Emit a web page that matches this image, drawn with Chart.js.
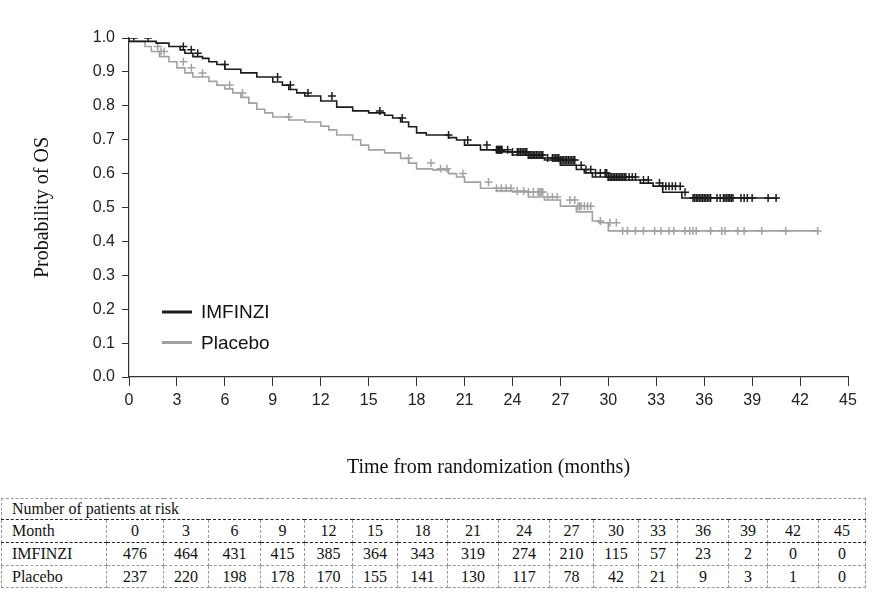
<!DOCTYPE html>
<html><head><meta charset="utf-8">
<script src="https://cdn.jsdelivr.net/npm/chart.js@4.4.0/dist/chart.umd.min.js"></script>
<style>
html,body{margin:0;padding:0;background:#fff;width:879px;height:603px;overflow:hidden;}
#wrap{position:absolute;left:0;top:0;width:879px;height:490px;}
#risk{position:absolute;left:1px;top:498px;border-collapse:collapse;table-layout:fixed;width:864px;font-family:"Liberation Serif","Times New Roman",serif;font-size:16px;color:#111;}
#risk td{border:1px dashed #9a9a9a;padding:0;text-align:center;line-height:18px;white-space:nowrap;overflow:hidden;}
#risk td.lab{text-align:left;padding-left:10px;}
#risk tr.t td{height:20px;text-align:left;padding-left:10px;border-bottom:1px dashed #222;}
#risk tr.m td{height:22px;border-bottom:1px dashed #222;}
#risk tr.a td{height:22px;}
#risk tr.b td{height:21px;}
</style></head>
<body>
<div id="wrap"><canvas id="c" width="879" height="490"></canvas></div>
<table id="risk"><colgroup id="cols"></colgroup><tbody id="tb"></tbody></table>
<script>
// ---- data ----
const imfTimes = [0,1.7,2.5,3.2,3.5,4.0,4.6,5.0,5.5,6.0,7.0,8.0,9.0,9.6,10.0,10.5,11.0,12.0,13.0,14.0,15.0,16.0,16.5,17.0,17.5,18.0,18.6,20.0,20.5,21.0,22.0,23.0,24.0,25.0,26.0,27.0,28.0,28.5,29.0,30.0,32.0,32.8,33.4,34.6,35.0,40.6];
const imfSurv  = [1.0,0.99,0.985,0.975,0.965,0.955,0.945,0.94,0.93,0.922,0.908,0.897,0.885,0.87,0.861,0.848,0.838,0.829,0.814,0.796,0.785,0.779,0.772,0.764,0.752,0.738,0.72,0.714,0.706,0.699,0.684,0.670,0.664,0.655,0.646,0.640,0.625,0.612,0.602,0.590,0.581,0.572,0.563,0.545,0.528,0.528];
const plaTimes = [0,1.0,1.4,1.9,2.5,3.0,3.5,4.0,5.0,5.5,6.0,6.5,7.0,7.5,8.0,8.5,9.0,10.0,11.0,12.0,12.5,13.0,14.0,14.5,15.0,16.0,17.0,17.5,18.0,19.0,20.0,20.5,21.0,22.0,23.0,24.0,25.0,26.0,27.0,28.0,29.0,29.4,30.0,30.9,43.1];
const plaSurv  = [1.0,0.99,0.975,0.96,0.945,0.93,0.912,0.897,0.885,0.872,0.861,0.85,0.838,0.825,0.808,0.79,0.779,0.767,0.758,0.752,0.74,0.729,0.714,0.70,0.684,0.670,0.661,0.645,0.631,0.614,0.611,0.60,0.590,0.575,0.557,0.549,0.546,0.531,0.522,0.504,0.487,0.46,0.455,0.431,0.431];
const imfCensor = [0.3,1.2,3.4,3.9,4.3,6.0,9.3,10.1,11.2,12.7,15.7,17.1,20.0,21.2,22.4,
  23.0,23.05,23.1,23.15,23.2,23.25,23.3,23.35,23.7,24.0,
  24.3,24.4,24.5,24.6,24.7,24.8,24.9,25.0,25.1,25.2,25.3,25.4,25.5,25.6,25.7,25.8,25.9,
  26.2,26.5,26.6,26.7,26.8,26.9,27.0,27.1,27.2,27.3,27.4,27.5,27.6,27.7,27.8,27.9,
  28.3,28.6,28.9,29.2,29.5,
  29.8,29.9,30.0,30.1,30.2,30.3,30.4,30.5,30.6,30.7,30.8,30.9,31.0,31.1,
  31.3,31.5,31.7,32.2,32.5,33.2,33.4,33.6,33.8,34.0,34.2,34.5,34.8,
  35.3,35.4,35.5,35.6,35.7,35.8,35.9,36.0,36.1,36.2,36.3,36.4,
  36.8,37.0,37.2,37.3,37.4,37.5,37.6,37.7,37.8,38.3,38.5,38.7,39.0,40.0,40.5];
const plaCensor = [1.8,2.0,2.2,3.4,3.9,4.6,6.3,7.1,10.0,17.5,18.9,19.5,19.9,20.9,22.5,23.0,23.3,23.6,23.9,24.3,24.7,25.0,25.3,25.6,25.7,25.8,25.9,26.2,26.5,26.8,27.6,27.9,28.1,28.2,28.3,28.5,28.7,28.9,29.5,30.1,30.5,30.9,31.2,31.7,32.2,32.9,33.3,33.8,34.1,34.8,35.1,35.3,35.5,36.4,37.1,37.3,38.1,38.5,39.6,41.1,43.1];
const riskMonths  = [0,3,6,9,12,15,18,21,24,27,30,33,36,39,42,45];
const riskImfinzi = [476,464,431,415,385,364,343,319,274,210,115,57,23,2,0,0];
const riskPlacebo = [237,220,198,178,170,155,141,130,117,78,42,21,9,3,1,0];
const seriesNames = ['IMFINZI','Placebo'];
const colWidths = [105,57,45,52,44,48,45,50,51,51,44,45,39,51,39,51,47];

// ---- helpers ----
function stepAt(times, surv, t){ let v = surv[0]; for(let i=0;i<times.length;i++){ if(times[i]<=t) v=surv[i]; } return v; }
const imfLine = imfTimes.map((t,i)=>({x:t,y:imfSurv[i]}));
const plaLine = plaTimes.map((t,i)=>({x:t,y:plaSurv[i]}));
const imfPts = imfCensor.map(t=>({x:t,y:stepAt(imfTimes,imfSurv,t)}));
const plaPts = plaCensor.map(t=>({x:t,y:stepAt(plaTimes,plaSurv,t)}));
const cImf = '#1c1c1c', cPla = '#a2a2a2';

const legendPlugin = {
  id:'kmLegend',
  afterDraw(chart){
    const {ctx, chartArea:a} = chart;
    const items = chart.data.datasets.filter(d=>d.kmLegend);
    ctx.save();
    items.forEach((d,i)=>{
      const y = a.top + 274 + i*30.5;
      ctx.strokeStyle = d.borderColor; ctx.lineWidth = 3;
      ctx.beginPath(); ctx.moveTo(a.left+33,y); ctx.lineTo(a.left+63,y); ctx.stroke();
      ctx.fillStyle = '#111'; ctx.font = '19px "Liberation Sans", Arial, sans-serif';
      ctx.textBaseline = 'middle'; ctx.textAlign='left';
      ctx.fillText(d.label, a.left+72, y+1);
    });
    ctx.restore();
  }
};

new Chart(document.getElementById('c'), {
  type:'line',
  data:{datasets:[
    {label:seriesNames[0], data:imfLine, stepped:'after', borderColor:cImf, borderWidth:1.6, pointRadius:0, fill:false, kmLegend:true},
    {label:seriesNames[1], data:plaLine, stepped:'after', borderColor:cPla, borderWidth:1.6, pointRadius:0, fill:false, kmLegend:true},
    {label:'c1', data:imfPts, showLine:false, pointStyle:'cross', pointRadius:4, pointBorderColor:cImf, pointBorderWidth:1.5, borderColor:cImf},
    {label:'c2', data:plaPts, showLine:false, pointStyle:'cross', pointRadius:4, pointBorderColor:cPla, pointBorderWidth:1.5, borderColor:cPla}
  ]},
  options:{
    responsive:false, animation:false, devicePixelRatio:1,
    layout:{padding:{left:0,top:38,right:31,bottom:10}},
    plugins:{legend:{display:false}, tooltip:{enabled:false}},
    scales:{
      x:{type:'linear', min:0, max:45,
        ticks:{stepSize:3, color:'#222', padding:5, font:{family:'"Liberation Sans", Arial, sans-serif', size:16}},
        grid:{drawOnChartArea:false, drawTicks:true, tickLength:9, color:'#333'},
        border:{display:true, color:'#333', width:1.2},
        title:{display:true, text:'Time from randomization (months)', color:'#111', padding:{top:0,bottom:0}, font:{family:'"Liberation Serif","Times New Roman",serif', size:20}},
        afterFit(s){ s.height = 103; }
      },
      y:{min:0, max:1,
        ticks:{stepSize:0.1, color:'#222', padding:7, callback:v=>v.toFixed(1), font:{family:'"Liberation Sans", Arial, sans-serif', size:16}},
        grid:{drawOnChartArea:false, drawTicks:true, tickLength:7, color:'#333'},
        border:{display:true, color:'#333', width:1.2},
        title:{display:true, text:'Probability of OS', color:'#111', padding:{top:31,bottom:0}, font:{family:'"Liberation Serif","Times New Roman",serif', size:20}},
        afterFit(s){ s.width = 129; }
      }
    }
  },
  plugins:[legendPlugin]
});

// ---- risk table ----
const cols = document.getElementById('cols');
colWidths.forEach(w=>{ const c=document.createElement('col'); c.style.width=w+'px'; cols.appendChild(c); });
const tb = document.getElementById('tb');
function addRow(cls, label, vals){
  const tr=document.createElement('tr'); tr.className=cls;
  const l=document.createElement('td'); l.className='lab'; l.textContent=label; tr.appendChild(l);
  vals.forEach(v=>{ const td=document.createElement('td'); td.textContent=v; tr.appendChild(td); });
  tb.appendChild(tr);
}
const tr0=document.createElement('tr'); tr0.className='t';
const td0=document.createElement('td'); td0.colSpan=colWidths.length; td0.textContent='Number of patients at risk'; tr0.appendChild(td0); tb.appendChild(tr0);
addRow('m','Month',riskMonths);
addRow('a',seriesNames[0],riskImfinzi);
addRow('b',seriesNames[1],riskPlacebo);
</script>
</body></html>
